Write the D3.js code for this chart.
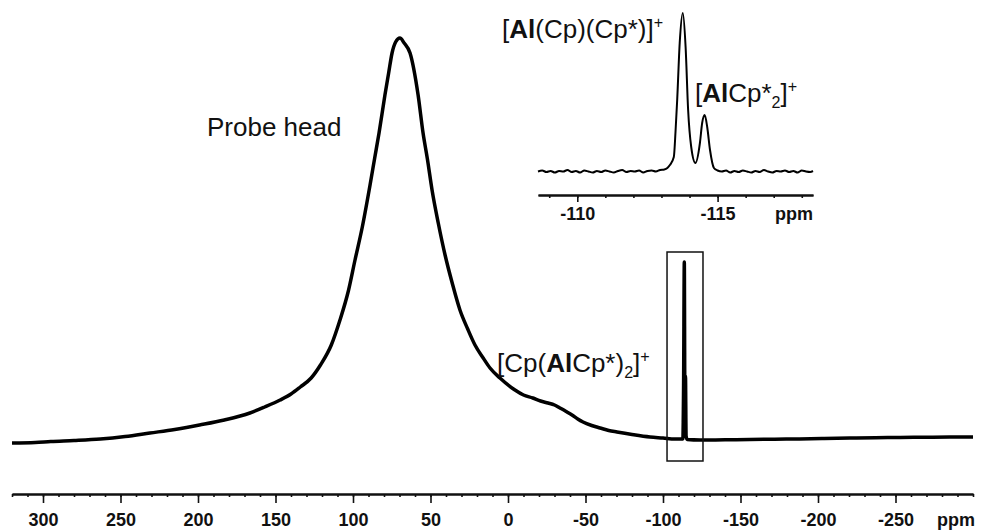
<!DOCTYPE html>
<html>
<head>
<meta charset="utf-8">
<script src="https://cdn.jsdelivr.net/npm/d3@7"></script>
<style>
  html, body { margin: 0; padding: 0; background: #fff; }
  svg { display: block; }
  text { font-family: "Liberation Sans", Arial, Helvetica, sans-serif; fill: #111; }
</style>
</head>
<body>
<svg id="chart" width="983" height="532"></svg>
<script>
// ---------- DATA ----------
// Main 27Al spectrum: chemical shift (ppm) and intensity (arbitrary units)
const mainPpm = [320, 305, 295, 280, 263, 247, 231, 215, 199, 183, 166.5, 157, 147, 140, 134, 127, 121, 114, 108.4, 103, 98.7, 94, 89, 86, 83.2, 79.4, 77, 74.8, 72.5, 69.7, 67, 63.2, 58, 54.8, 52, 49, 45, 40.6, 36, 31, 26, 21.3, 16, 11.6, 5.2, -4.5, -10, -16, -21, -25.8, -30, -33.5, -37.5, -41.3, -45, -48.4, -54, -59.4, -65, -70.3, -80, -91.6, -100, -107.7, -112.8, -113.3, -113.75, -114.1, -114.5, -114.9, -115.6, -123.9, -140, -156, -172, -188, -204, -220.6, -237, -253, -270, -285, -300];
const mainInt = [-2, -1.5, -0.5, 0.5, 2, 4.5, 8, 11.5, 16, 21, 28, 34, 41, 47, 54, 63, 76, 96, 121, 150, 181, 214, 256, 283, 308, 346, 368, 388, 399, 403, 398, 388, 346, 308, 282, 251, 218, 186, 158, 131, 112, 96, 83, 73, 63, 51, 46, 43, 40, 38, 36, 33, 29.5, 26, 22, 19, 15.5, 13, 10.5, 9, 6.5, 4, 3, 2, 2, 60, 179, 50, 65, 5, 1.5, 1, 1.2, 1.5, 1.8, 2, 2.5, 3, 3.3, 3.5, 3.8, 4, 4];

// Inset: expanded region around -114 ppm (baseline noise)
const insetPpm = [-108.6, -108.75, -108.9, -109.05, -109.2, -109.35, -109.5, -109.65, -109.8, -109.95, -110.1, -110.25, -110.4, -110.55, -110.7, -110.85, -111.0, -111.15, -111.3, -111.45, -111.6, -111.75, -111.9, -112.05, -112.2, -112.35, -112.5, -112.65, -112.8, -112.95, -113.1,
  -113.21, -113.3, -113.44, -113.5, -113.56, -113.65, -113.76, -113.86, -113.95, -114.06, -114.21, -114.37, -114.45, -114.54, -114.63, -114.73, -114.87, -115.0,
  -115.15, -115.3, -115.45, -115.6, -115.75, -115.9, -116.05, -116.2, -116.35, -116.5, -116.65, -116.8, -116.95, -117.1, -117.25, -117.4, -117.55, -117.7, -117.85, -118.0, -118.15, -118.3, -118.4];
const insetInt = [0.5, 1.5, 0, 1, -0.5, 1, 0.5, 2, 0, 1, -0.5, 1.5, 0.5, -0.5, 1, 0, 1.5, 0.5, -0.5, 1, 2, 0, 1, 0.5, 1.5, -0.5, 1, 1.5, 0.5, 2, 2.5,
  4, 7, 15, 40, 72, 129, 159, 125, 62, 25, 9, 29, 49, 57, 45, 22, 4, 1.5,
  0.5, 1.5, -0.5, 1, 0, 1.5, 0.5, -0.5, 1, 0, 2, 0.5, -0.5, 1, 0.5, 1.5, 0, 1, -0.5, 1.5, 0.5, 0, 1];

// Tick labels
const mainMajorTicks = [300, 250, 200, 150, 100, 50, 0, -50, -100, -150, -200, -250];
const mainMinorTicks = d3.range(320, -301, -10);
const insetMajorTicks = [-110, -115];
const insetMinorTicks = [-109, -110, -111, -112, -113, -114, -115, -116, -117, -118];

// Zoom box around the narrow signals (ppm range, intensity range)
const boxPpm = [-102.6, -125.8];
const boxInt = [189, -20];

// ---------- DRAWING ----------
const svg = d3.select("#chart");

// main scales
const x = d3.scaleLinear().domain([320, -300]).range([12, 973]);
const y = d3.scaleLinear().domain([0, 403]).range([441, 38]);

// inset scales
const xi = d3.scaleLinear().domain([-108.6, -118.4]).range([538, 813]);
const yi = d3.scaleLinear().domain([0, 159]).range([172, 13]);

// main spectrum
const mainData = mainPpm.map((p, i) => [p, mainInt[i]]);
svg.append("path")
  .datum(mainData)
  .attr("fill", "none")
  .attr("stroke", "#000")
  .attr("stroke-width", 3.5)
  .attr("stroke-linejoin", "round")
  .attr("d", d3.line().x(d => x(d[0])).y(d => y(d[1])).curve(d3.curveMonotoneX));

// zoom box
svg.append("rect")
  .attr("x", x(boxPpm[0]))
  .attr("y", y(boxInt[0]))
  .attr("width", x(boxPpm[1]) - x(boxPpm[0]))
  .attr("height", y(boxInt[1]) - y(boxInt[0]))
  .attr("fill", "none")
  .attr("stroke", "#111")
  .attr("stroke-width", 1.5);

// inset spectrum
const insetData = insetPpm.map((p, i) => [p, insetInt[i]]);
svg.append("path")
  .datum(insetData)
  .attr("fill", "none")
  .attr("stroke", "#000")
  .attr("stroke-width", 2)
  .attr("stroke-linejoin", "round")
  .attr("d", d3.line().x(d => xi(d[0])).y(d => yi(d[1])).curve(d3.curveMonotoneX));

// main axis
const axisY = 494;
const gMinor = svg.append("g").attr("transform", `translate(0,${axisY})`)
  .call(d3.axisBottom(x).tickValues(mainMinorTicks).tickSize(3).tickSizeOuter(0).tickFormat(""));
const gMajor = svg.append("g").attr("transform", `translate(0,${axisY})`)
  .call(d3.axisBottom(x).tickValues(mainMajorTicks).tickSize(9).tickSizeOuter(0).tickFormat(d3.format("d")).tickPadding(0));
[gMinor, gMajor].forEach(g => {
  g.select(".domain").attr("stroke", "#111").attr("stroke-width", 2);
  g.selectAll(".tick line").attr("stroke", "#111").attr("stroke-width", 1.6);
});
gMajor.selectAll(".tick text")
  .attr("y", 32).attr("dy", 0)
  .style("font-size", "18px").style("font-weight", "bold")
  .attr("fill", "#111")
  .text(d => d3.format("d")(d).replace("−", "-"));
svg.append("text").attr("x", 975).attr("y", 526)
  .attr("text-anchor", "end")
  .style("font-size", "18px").style("font-weight", "bold").text("ppm");

// inset axis
const insetAxisY = 195;
const giMinor = svg.append("g").attr("transform", `translate(0,${insetAxisY})`)
  .call(d3.axisBottom(xi).tickValues(insetMinorTicks).tickSize(3).tickSizeOuter(0).tickFormat(""));
const giMajor = svg.append("g").attr("transform", `translate(0,${insetAxisY})`)
  .call(d3.axisBottom(xi).tickValues(insetMajorTicks).tickSize(7).tickSizeOuter(0).tickFormat(d3.format("d")));
[giMinor, giMajor].forEach(g => {
  g.select(".domain").attr("stroke", "#111").attr("stroke-width", 2);
  g.selectAll(".tick line").attr("stroke", "#111").attr("stroke-width", 1.6);
});
giMajor.selectAll(".tick text")
  .attr("y", 25).attr("dy", 0)
  .style("font-size", "18px").style("font-weight", "bold")
  .attr("fill", "#111")
  .text(d => d3.format("d")(d).replace("−", "-"));
svg.append("text").attr("x", 813).attr("y", 220)
  .attr("text-anchor", "end")
  .style("font-size", "18px").style("font-weight", "bold").text("ppm");

// annotation labels
function label(xp, yp, parts, size) {
  const t = svg.append("text").attr("x", xp).attr("y", yp).style("font-size", size + "px");
  let shift = 0;
  parts.forEach(p => {
    const s = t.append("tspan").text(p.t);
    let target = 0;
    if (p.sup) target = -size * 0.38;
    if (p.sub) target = size * 0.24;
    s.attr("dy", target - shift);
    shift = target;
    if (p.bold) s.style("font-weight", "bold");
    if (p.sup || p.sub) s.style("font-size", (size * 0.62) + "px");
  });
  return t;
}
label(207, 136, [{t: "Probe head"}], 26);
label(502, 38, [{t: "["}, {t: "Al", bold: true}, {t: "(Cp)(Cp*)]"}, {t: "+", sup: true}], 26);
label(695, 102, [{t: "["}, {t: "Al", bold: true}, {t: "Cp*"}, {t: "2", sub: true}, {t: "]"}, {t: "+", sup: true}], 26);
label(497, 372, [{t: "[Cp("}, {t: "Al", bold: true}, {t: "Cp*)"}, {t: "2", sub: true}, {t: "]"}, {t: "+", sup: true}], 26);
</script>
</body>
</html>
